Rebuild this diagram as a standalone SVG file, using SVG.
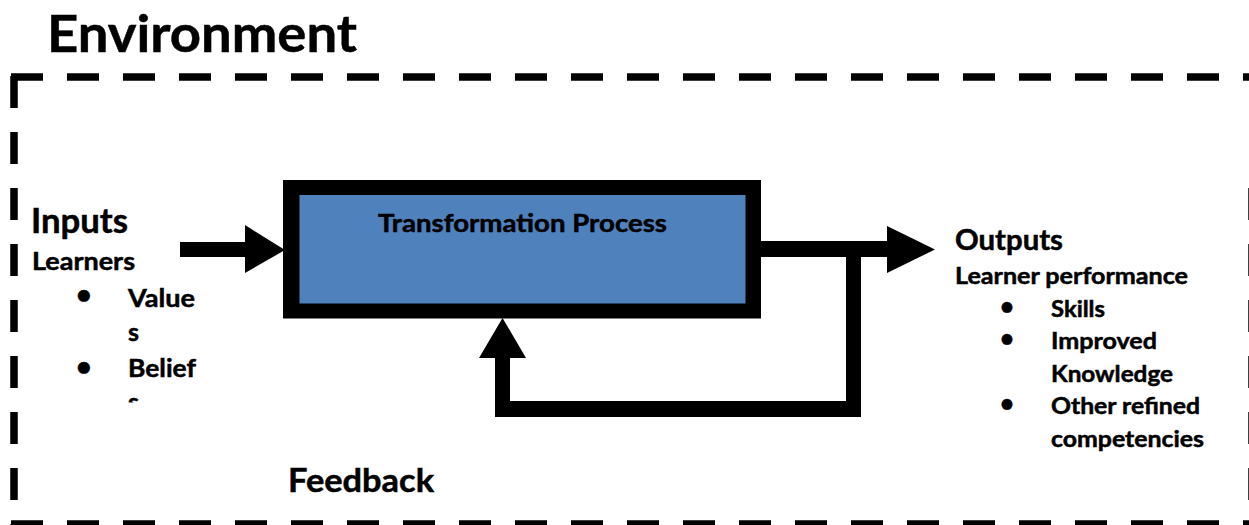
<svg xmlns="http://www.w3.org/2000/svg" width="1249" height="525" viewBox="0 0 1249 525">
  <style>
    .t { font-family: Lato, "Open Sans", "Liberation Sans", sans-serif; font-weight: 700; fill: #000; stroke: #000; stroke-width: 0.5; }
    .dash { stroke: #000; stroke-width: 7.5; stroke-dasharray: 32 24; fill: none; }
    .conn { fill: #000; }
  </style>
  <defs>
    <clipPath id="clipBeliefs">
      <rect x="0" y="0" width="300" height="402.5"/>
    </clipPath>
  </defs>
  <rect x="0" y="0" width="1249" height="525" fill="#fff"/>

  <g id="environment">
    <text class="t" x="47" y="52" font-size="52" textLength="310" lengthAdjust="spacingAndGlyphs" stroke-width="0.9">Environment</text>
    <line class="dash" x1="11" y1="77" x2="1249" y2="77"/>
    <line class="dash" x1="14" y1="76" x2="14" y2="525"/>
    <line class="dash" x1="11" y1="524" x2="1249" y2="524"/>
    <line class="dash" x1="1252" y1="188" x2="1252" y2="525"/>
  </g>

  <g id="inputs">
    <text class="t" x="31" y="233" font-size="35" textLength="97" lengthAdjust="spacingAndGlyphs" stroke-width="0.7">Inputs</text>
    <text class="t" x="32" y="270" font-size="24" textLength="103" lengthAdjust="spacingAndGlyphs">Learners</text>
    <text class="t" x="76" y="304" font-size="27">•</text>
    <text class="t" x="128" y="307" font-size="25" textLength="67" lengthAdjust="spacingAndGlyphs">Value</text>
    <text class="t" x="128" y="341" font-size="25">s</text>
    <text class="t" x="76" y="376" font-size="27">•</text>
    <text class="t" x="128" y="377" font-size="25" textLength="68" lengthAdjust="spacingAndGlyphs">Belief</text>
    <text class="t" x="128" y="411" font-size="25" clip-path="url(#clipBeliefs)">s</text>
  </g>

  <g id="process">
    <rect x="283" y="180" width="478" height="138.5" fill="#000"/>
    <rect x="299.5" y="195" width="446" height="108.5" fill="#4F81BD"/>
    <text class="t" x="378" y="232" font-size="25" textLength="289" lengthAdjust="spacingAndGlyphs" fill="#0a0a14">Transformation Process</text>
  </g>

  <g id="outputs">
    <text class="t" x="955" y="250" font-size="28" textLength="108" lengthAdjust="spacingAndGlyphs" stroke-width="0.6">Outputs</text>
    <text class="t" x="955" y="284" font-size="22.5" textLength="233" lengthAdjust="spacingAndGlyphs">Learner performance</text>
    <text class="t" x="1000" y="315" font-size="24">•</text>
    <text class="t" x="1051" y="317" font-size="22.5" textLength="54" lengthAdjust="spacingAndGlyphs">Skills</text>
    <text class="t" x="1000" y="347" font-size="24">•</text>
    <text class="t" x="1051" y="349" font-size="22.5" textLength="106" lengthAdjust="spacingAndGlyphs">Improved</text>
    <text class="t" x="1051" y="382" font-size="22.5" textLength="122" lengthAdjust="spacingAndGlyphs">Knowledge</text>
    <text class="t" x="1000" y="412" font-size="24">•</text>
    <text class="t" x="1051" y="414" font-size="22.5" textLength="149" lengthAdjust="spacingAndGlyphs">Other refined</text>
    <text class="t" x="1051" y="447" font-size="22.5" textLength="153" lengthAdjust="spacingAndGlyphs">competencies</text>
  </g>

  <g id="feedback-label">
    <text class="t" x="288" y="492" font-size="32" textLength="146" lengthAdjust="spacingAndGlyphs" stroke-width="0.6">Feedback</text>
  </g>

  <g id="connectors">
    <polygon class="conn" points="180,242 245,242 245,225 285,250 245,273 245,257 180,257"/>
    <polygon class="conn" points="761,241 887,241 887,226 935,249.5 887,273 887,257 761,257"/>
    <polygon class="conn" points="846,250 861,250 861,417 495,417 495,358 479,358 502.5,318 526,358 510,358 510,401 846,401"/>
  </g>
</svg>
